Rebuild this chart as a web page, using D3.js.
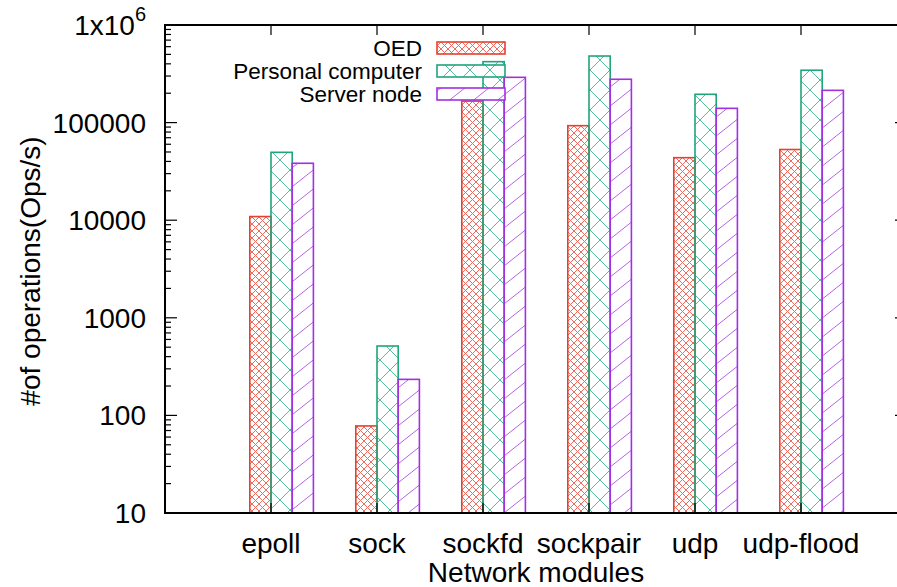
<!DOCTYPE html>
<html>
<head>
<meta charset="utf-8">
<script src="https://cdn.jsdelivr.net/npm/d3@7"></script>
<style>
  body { margin: 0; background: #fff; }
  svg { display: block; }
  text { font-family: "Liberation Sans", Arial, Helvetica, sans-serif; fill: #000; }
</style>
</head>
<body>
<svg id="chart" width="897" height="587"></svg>
<script>
// ---- data ----
const categories = ["epoll", "sock", "sockfd", "sockpair", "udp", "udp-flood"];
const seriesNames = ["OED", "Personal computer", "Server node"];
const oedValues = [10900, 78, 166000, 93000, 43700, 53000];
const pcValues = [49600, 514, 421000, 481000, 195000, 344000];
const serverValues = [38300, 234, 291000, 278000, 140000, 214000];
const yTickValues = [10, 100, 1000, 10000, 100000, 1000000];
const yTickLabels = ["10", "100", "1000", "10000", "100000", "1x10|6"];
const xTitle = "Network modules";
const yTitle = "#of operations(Ops/s)";

const seriesValues = [oedValues, pcValues, serverValues];
const colors = ["#e8402f", "#1fa57c", "#a130e0"];
const patternIds = ["pat-red", "pat-green", "pat-purple"];

// ---- layout ----
const pLeft = 165, pRight = 907, pTop = 25, pBottom = 513;
const svg = d3.select("#chart");

const x = d3.scaleLinear().domain([-1, categories.length]).range([pLeft, pRight]);
const step = x(1) - x(0);
const bw = step * 0.2;
const inner = d3.scaleBand().domain(seriesNames).range([-bw, 2 * bw]).padding(0);
const y = d3.scaleLog().domain([10, 1e6]).range([pBottom, pTop]);

// ---- patterns ----
const defs = svg.append("defs");
function crossPattern(id, w, h, color, sw) {
  const p = defs.append("pattern").attr("id", id).attr("patternUnits", "userSpaceOnUse")
    .attr("width", w).attr("height", h);
  const g = p.append("g").attr("stroke", color).attr("stroke-width", sw).attr("fill", "none");
  g.append("line").attr("x1", 0).attr("y1", 0).attr("x2", w).attr("y2", h);
  g.append("line").attr("x1", 0).attr("y1", h).attr("x2", w).attr("y2", 0);
  g.append("line").attr("x1", -w).attr("y1", 0).attr("x2", w).attr("y2", 2 * h);
  g.append("line").attr("x1", 0).attr("y1", -h).attr("x2", 2 * w).attr("y2", h);
}
function diagPattern(id, w, h, color, sw) {
  const p = defs.append("pattern").attr("id", id).attr("patternUnits", "userSpaceOnUse")
    .attr("width", w).attr("height", h);
  const g = p.append("g").attr("stroke", color).attr("stroke-width", sw).attr("fill", "none");
  g.append("line").attr("x1", 0).attr("y1", h).attr("x2", w).attr("y2", 0);
  g.append("line").attr("x1", -w).attr("y1", h).attr("x2", w).attr("y2", -h);
  g.append("line").attr("x1", 0).attr("y1", 2 * h).attr("x2", 2 * w).attr("y2", 0);
}
crossPattern("pat-red", 7, 7, "#ef6a5c", 1);
crossPattern("pat-green", 20, 20, "#55bf9c", 1);
diagPattern("pat-purple", 24, 19, "#b562ea", 1);

// ---- bars ----
seriesNames.forEach((s, j) => {
  svg.append("g").selectAll("rect")
    .data(categories.map((c, i) => ({ i, v: seriesValues[j][i] })))
    .join("rect")
    .attr("x", d => x(d.i) + inner(s))
    .attr("y", d => y(d.v))
    .attr("width", inner.bandwidth())
    .attr("height", d => pBottom - y(d.v))
    .attr("fill", "url(#" + patternIds[j] + ")")
    .attr("stroke", colors[j])
    .attr("stroke-width", 1.6);
});

// ---- frame & ticks ----
const axisG = svg.append("g").attr("stroke", "#000");
axisG.append("rect").attr("x", pLeft).attr("y", pTop).attr("width", pRight - pLeft).attr("height", pBottom - pTop)
  .attr("fill", "none").attr("stroke-width", 2);

const minor = [];
for (let e = 1; e < 6; e++) for (let k = 2; k <= 9; k++) minor.push(k * Math.pow(10, e));
yTickValues.forEach(v => {
  axisG.append("line").attr("x1", pLeft).attr("x2", pLeft + 12).attr("y1", y(v)).attr("y2", y(v)).attr("stroke-width", 1.2);
  axisG.append("line").attr("x1", pRight).attr("x2", pRight - 12).attr("y1", y(v)).attr("y2", y(v)).attr("stroke-width", 1.2);
});
minor.forEach(v => {
  axisG.append("line").attr("x1", pLeft).attr("x2", pLeft + 6).attr("y1", y(v)).attr("y2", y(v)).attr("stroke-width", 1.2);
  axisG.append("line").attr("x1", pRight).attr("x2", pRight - 6).attr("y1", y(v)).attr("y2", y(v)).attr("stroke-width", 1.2);
});
categories.forEach((c, i) => {
  axisG.append("line").attr("x1", x(i)).attr("x2", x(i)).attr("y1", pTop).attr("y2", pTop + 10).attr("stroke-width", 1.2);
  axisG.append("line").attr("x1", x(i)).attr("x2", x(i)).attr("y1", pBottom).attr("y2", pBottom - 10).attr("stroke-width", 1.2);
});

// y tick labels
yTickValues.forEach((v, k) => {
  const lab = yTickLabels[k];
  const t = svg.append("text").attr("x", pLeft - 19).attr("y", y(v) + 10)
    .attr("text-anchor", "end").attr("font-size", 28);
  if (lab.includes("|")) {
    const [base, sup] = lab.split("|");
    t.append("tspan").text(base);
    t.append("tspan").attr("dy", -14).attr("font-size", 20).text(sup);
  } else {
    t.text(lab);
  }
});

// x tick labels
categories.forEach((c, i) => {
  svg.append("text").attr("x", x(i)).attr("y", 553).attr("text-anchor", "middle")
    .attr("font-size", 28).text(c);
});

// titles
svg.append("text").attr("x", (pLeft + pRight) / 2).attr("y", 582).attr("text-anchor", "middle")
  .attr("font-size", 28).text(xTitle);
svg.append("text").attr("transform", "translate(40," + 271 + ") rotate(-90)")
  .attr("text-anchor", "middle").attr("font-size", 28).text(yTitle);

// ---- legend ----
const legRowY = [48, 71, 94];
seriesNames.forEach((s, j) => {
  const cy = legRowY[j];
  svg.append("rect").attr("x", 437).attr("y", cy - 6).attr("width", 68).attr("height", 12)
    .attr("fill", "#fff");
  svg.append("rect").attr("x", 437).attr("y", cy - 6).attr("width", 68).attr("height", 12)
    .attr("fill", "url(#" + patternIds[j] + ")").attr("stroke", colors[j]).attr("stroke-width", 1.6);
  svg.append("text").attr("x", 422).attr("y", cy + 8).attr("text-anchor", "end")
    .attr("font-size", 22.5).text(s);
});
</script>
</body>
</html>
